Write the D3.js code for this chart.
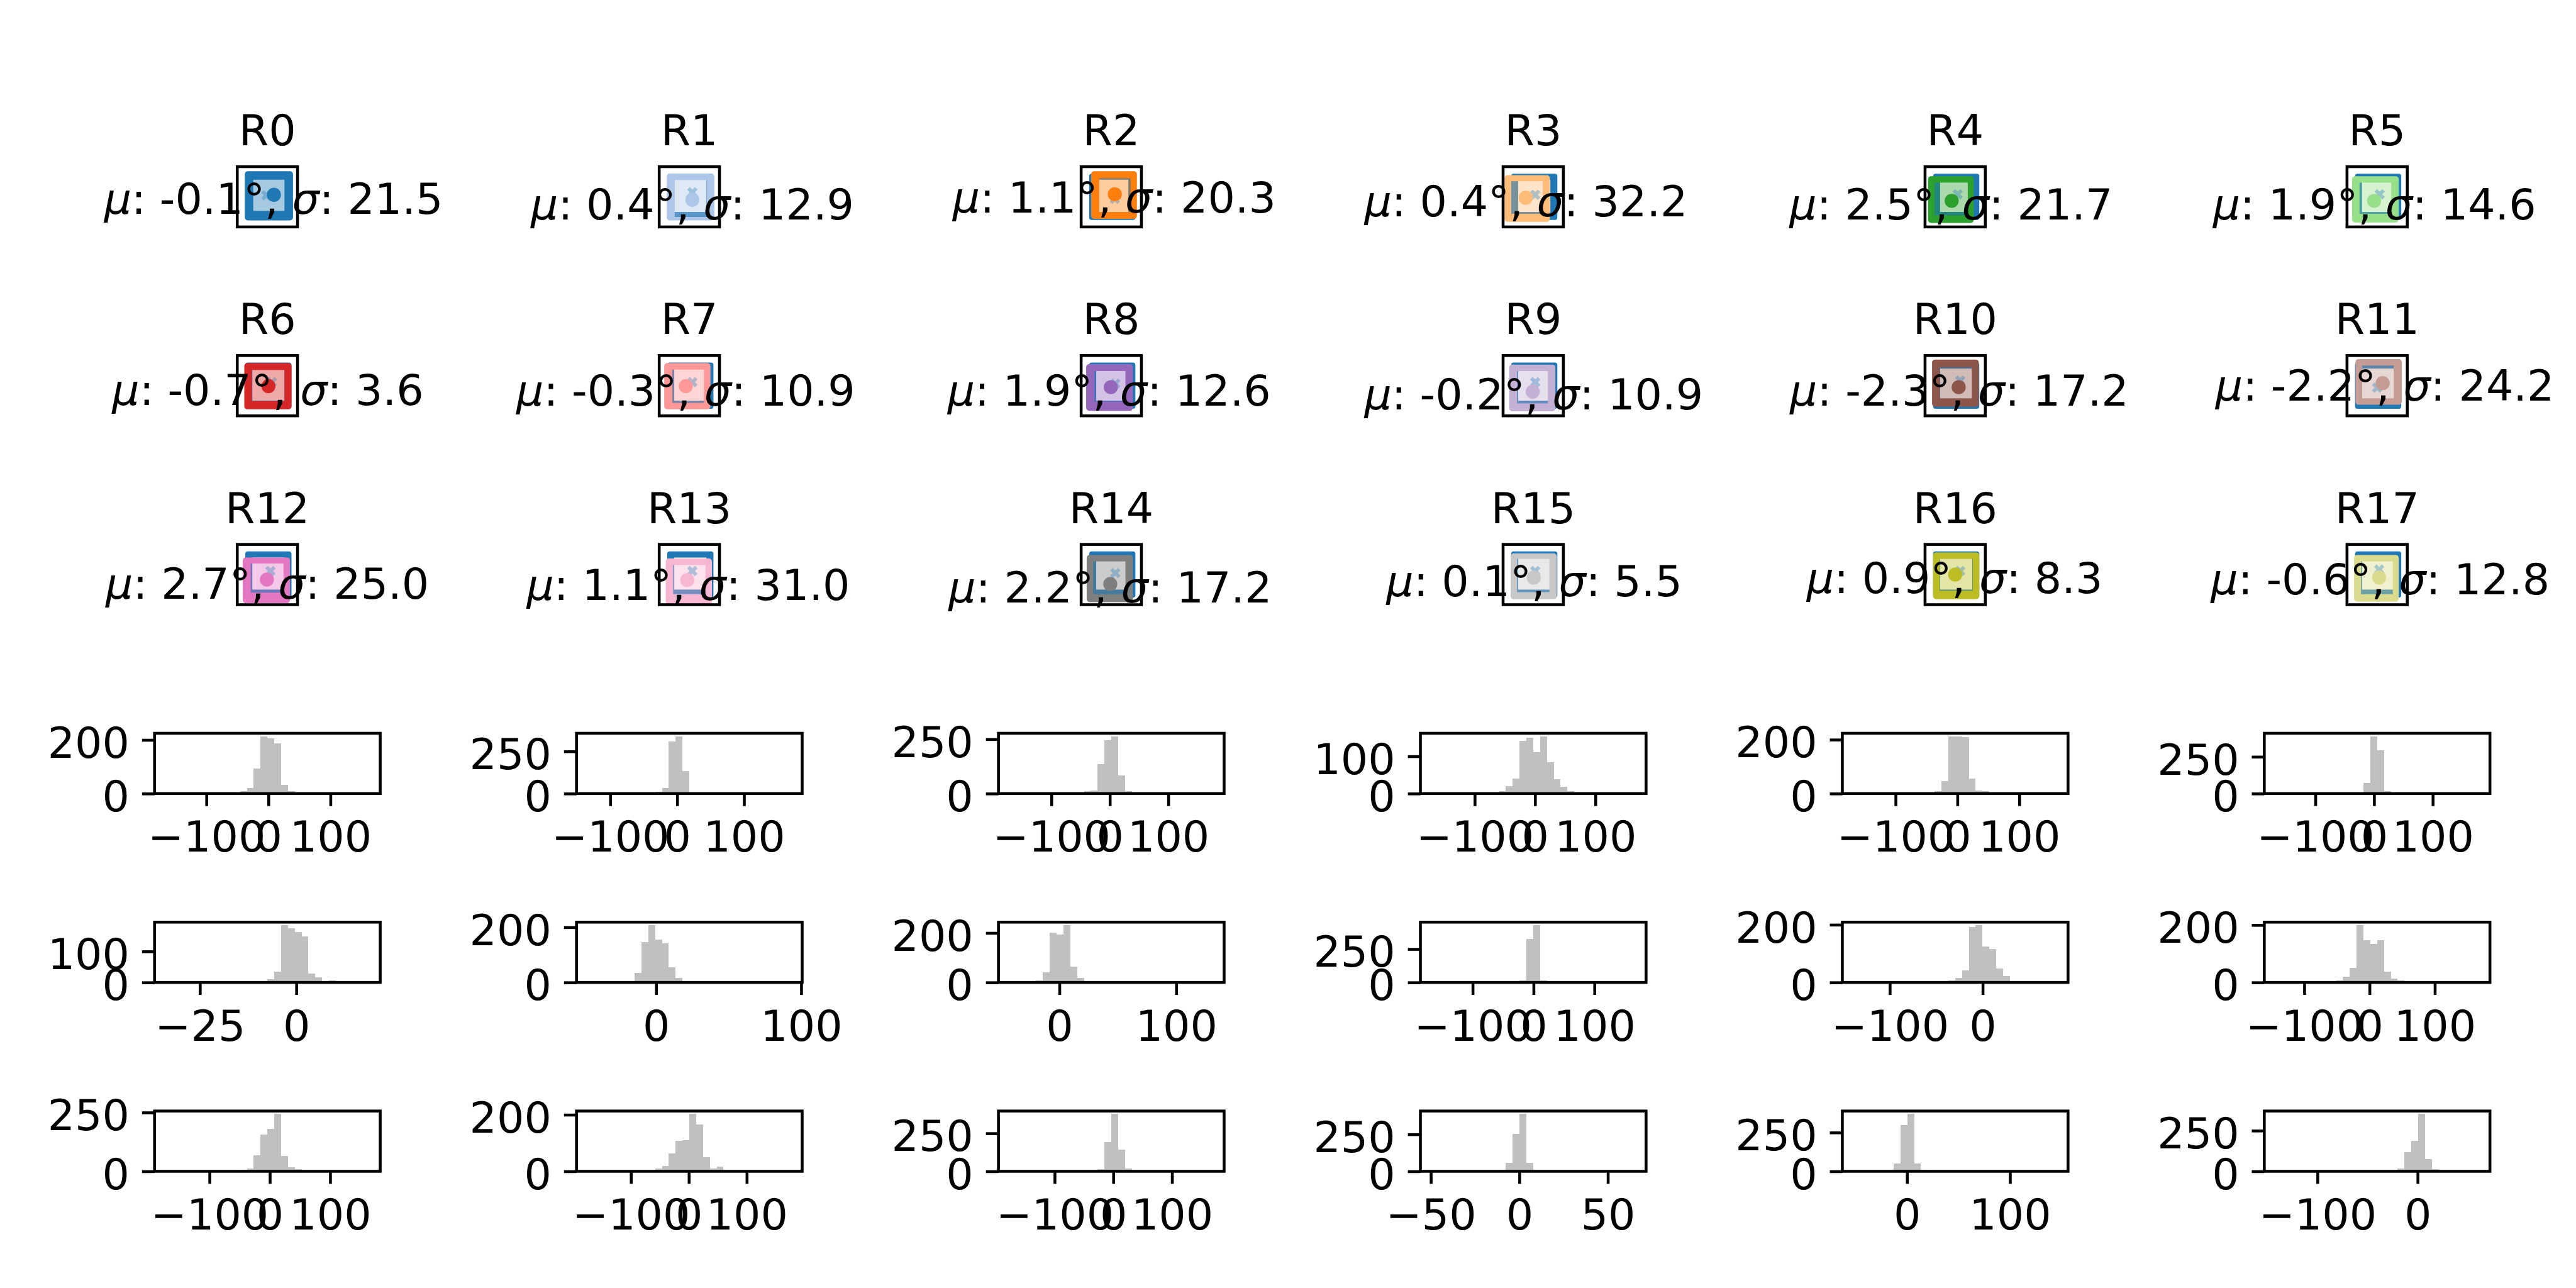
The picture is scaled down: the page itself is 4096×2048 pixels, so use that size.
<!DOCTYPE html>
<html><head><meta charset="utf-8">
<script src="https://cdn.jsdelivr.net/npm/d3@7"></script>
<style>html,body{margin:0;padding:0;background:#fff}svg{display:block}</style>
</head><body>
<script>
// ---------------- data ----------------
const regionNames = ["R0","R1","R2","R3","R4","R5","R6","R7","R8","R9","R10","R11","R12","R13","R14","R15","R16","R17"];
const muValues = [-0.1,0.4,1.1,0.4,2.5,1.9,-0.7,-0.3,1.9,-0.2,-2.3,-2.2,2.7,1.1,2.2,0.1,0.9,-0.6];
const sigmaValues = [21.5,12.9,20.3,32.2,21.7,14.6,3.6,10.9,12.6,10.9,17.2,24.2,25.0,31.0,17.2,5.5,8.3,12.8];

// histogram: data range (min, max) and 30 bin counts
const histMin = [-167,-135.1,-173,-173,-169.4,-169.5,-34.1,-47.8,-43.4,-169,-140,-145.5,-174,-176.3,-178.2,-50.1,-52.8,-142.8];
const histMax = [163.7,171.6,178,167,162.2,180,19.1,93.6,132.2,168,80.8,168.8,166,178.1,171.3,65.8,146.4,62];
const histCounts = [
  [1,0,0,0,0,0,0,0,0,0, 0,9,21,94,214,206,188,32,9,2, 0,0,0,0,0,0,0,0,0,1],
  [1,0,0,0,0,0,0,0,0,5, 9,34,309,340,133,0,0,0,0,0, 0,0,0,0,0,0,0,0,0,1],
  [1,0,0,0,0,0,0,0,0,0, 0,11,15,135,246,264,82,11,0,0, 0,0,0,0,0,0,0,0,0,1],
  [1,0,0,0,0,0,0,0,0,0, 6,20,40,142,149,111,154,84,39,19, 6,0,0,0,0,0,0,0,0,1],
  [1,0,0,0,0,0,0,0,0,0, 0,0,9,47,212,213,210,55,12,9, 0,0,0,0,0,0,0,0,0,1],
  [1,0,0,0,0,0,0,0,0,0, 0,0,3,70,390,293,17,0,0,0, 0,0,0,0,0,0,0,0,0,1],
  [1,0,0,0,0,0,0,0,0,0, 0,0,0,0,0,11,34,185,175,163, 149,29,17,5,6,0,0,0,0,1],
  [1,0,0,0,0,5,5,35,147,208, 155,141,54,16,5,0,0,0,0,0, 0,0,0,0,0,0,0,0,0,1],
  [1,0,0,0,9,42,201,193,232,63, 17,0,0,0,0,0,0,0,0,0, 0,0,0,0,0,0,0,0,0,1],
  [1,0,0,0,0,0,0,0,0,0, 0,0,0,16,325,430,14,0,0,0, 0,0,0,0,0,0,0,0,0,1],
  [1,0,0,0,0,0,0,0,0,0, 0,0,0,0,7,16,41,192,199,124, 116,49,23,3,0,0,0,0,0,1],
  [1,0,0,0,0,0,0,0,0,7, 21,50,200,147,134,147,37,14,6,0, 0,0,0,0,0,0,0,0,0,1],
  [1,0,0,0,0,0,0,0,0,0, 0,6,12,69,157,179,244,66,17,8, 0,0,0,0,0,0,0,0,0,1],
  [1,0,0,0,0,0,0,0,0,0, 9,19,63,108,109,203,165,50,10,17, 0,0,0,0,0,0,0,0,0,1],
  [1,0,0,0,0,0,0,0,0,0, 0,0,8,16,192,378,144,18,0,0, 0,0,0,0,0,0,0,0,0,1],
  [1,0,0,0,0,0,0,0,0,0, 10,58,254,388,56,4,0,0,0,0, 0,0,0,0,0,0,0,0,0,1],
  [1,0,0,0,0,0,49,297,370,49, 8,0,0,0,0,0,0,0,0,0, 0,0,0,0,0,0,0,0,0,1],
  [1,0,0,0,0,0,0,0,0,0, 0,0,0,0,0,0,0,0,19,118, 188,353,75,13,0,0,0,0,0,1]
];
const histXTicks = [
  [-100,0,100],[-100,0,100],[-100,0,100],[-100,0,100],[-100,0,100],[-100,0,100],
  [-25,0],[0,100],[0,100],[-100,0,100],[-100,0],[-100,0,100],
  [-100,0,100],[-100,0,100],[-100,0,100],[-50,0,50],[0,100],[-100,0]
];
const histYTicks = [
  [0,200],[0,250],[0,250],[0,100],[0,200],[0,250],
  [0,100],[0,200],[0,200],[0,250],[0,200],[0,200],
  [0,250],[0,200],[0,250],[0,250],[0,250],[0,250]
];

// image masks, in image units (0..120): [x0, x1, y0, y1]
const referenceOuter = [16,108,14,106];
const referenceInner = [30,94,26,90];
const maskOuter = [
  [15,111,9,107],[15,110,14,107],[20,111,9,104],[3,93,17,110],[6,97,19,112],[10,103,19,111],
  [14,108,15,107],[10,102,15,107],[10,103,17,110],[12,104,18,111],[14,107,8,102],[17,109,7,98],
  [11,105,26,117],[13,105,28,120],[11,103,21,115],[15,107,18,109],[16,108,16,109],[14,103,21,114]
];
const maskInner = [
  [32,96,23,88],[31,95,27,100],[36,98,23,90],[15,79,29,94],[19,85,32,97],[25,88,32,94],
  [29,94,29,91],[26,89,28,94],[26,88,31,92],[28,89,31,95],[29,93,23,85],[30,93,20,85],
  [27,92,38,96],[28,92,41,99],[24,88,34,99],[28,92,29,95],[29,95,29,92],[28,91,34,99]
];
const centroidX = [73,66,67,45,53,54,62,53,59,59,67,71,59,56,58,61,60,64];
const centroidY = [56,66,55,62,68,68,61,61,63,72,63,55,70,71,79,66,60,66];
const markerX = [58,66,67,64,65,65,69,66,68,64,70,60,66,66,68,64,70,64];
const markerY = [57,51,64,56,55,55,53,53,56,53,50,64,53,53,57,53,53,50];

// ---------------- styles / layout ----------------
const palette = ["#1f77b4","#aec7e8","#ff7f0e","#ffbb78","#2ca02c","#98df8a","#d62728","#ff9896",
  "#9467bd","#c5b0d5","#8c564b","#c49c94","#e377c2","#f7b6d2","#7f7f7f","#c7c7c7","#bcbd22","#dbdb8d"];
// small per-panel nudges of the stat label (reference px)
const labelDx = [12,6,6,-14,-8,-5,1,-7,-4,1,8,15,0,-2,-2,2,-1,6];
const labelDy = [-25,-15,-28,-20,-14,-15,-21,-20,-20,-13,-20,-29,-12,-9,-4,-17,-22,-20];

histCounts.forEach((c,i)=>{ if (c.length !== 30) throw new Error("bad count length " + i + ": " + c.length); });

const W = 4096, H = 2048, S = 4096/5000;
const PT = 500/72*S;            // one point in window px
const FONT = "'DejaVu Sans', sans-serif";
const lw = 0.8*PT, tickLen = 3.5*PT, tickFont = 12*PT, titleFont = 12*PT;
const cellLeft = j => (300 + 819*j)*S;
const cellTop  = i => (323.5 + 366.6*i)*S;
const cellW = 438*S, cellH = 117*S;

const svg = d3.select("body").append("svg").attr("width", W).attr("height", H)
  .attr("font-family", FONT);
svg.append("rect").attr("width", W).attr("height", H).attr("fill", "#fff");
const defs = svg.append("defs");

function roundRectRing(xs, ys, outer, inner, r) {
  const p = d3.path();
  const X0 = xs(outer[0]), X1 = xs(outer[1]), Y0 = ys(outer[2]), Y1 = ys(outer[3]);
  const rr = xs(r) - xs(0);
  p.moveTo(X0 + rr, Y0); p.lineTo(X1 - rr, Y0); p.arcTo(X1, Y0, X1, Y0 + rr, rr);
  p.lineTo(X1, Y1 - rr); p.arcTo(X1, Y1, X1 - rr, Y1, rr);
  p.lineTo(X0 + rr, Y1); p.arcTo(X0, Y1, X0, Y1 - rr, rr);
  p.lineTo(X0, Y0 + rr); p.arcTo(X0, Y0, X0 + rr, Y0, rr); p.closePath();
  p.rect(xs(inner[0]), ys(inner[2]), xs(inner[1]) - xs(inner[0]), ys(inner[3]) - ys(inner[2]));
  return p.toString();
}

// ---------------- image panels ----------------
regionNames.forEach((name, k) => {
  const row = Math.floor(k/6), col = k % 6;
  const side = cellH;
  const bx = cellLeft(col) + (cellW - side)/2, by = cellTop(row);
  const xs = d3.scaleLinear().domain([0,120]).range([bx, bx + side]);
  const ys = d3.scaleLinear().domain([0,120]).range([by, by + side]);
  const g = svg.append("g");
  defs.append("clipPath").attr("id", "clip" + k).append("rect")
    .attr("x", bx).attr("y", by).attr("width", side).attr("height", side);
  const img = g.append("g").attr("clip-path", `url(#clip${k})`);
  img.append("path").attr("d", roundRectRing(xs, ys, referenceOuter, referenceInner, 5))
    .attr("fill", palette[0]).attr("fill-rule", "evenodd");
  img.append("path").attr("d", roundRectRing(xs, ys, maskOuter[k], maskInner[k], 6))
    .attr("fill", palette[k]).attr("fill-rule", "evenodd");
  const inn = maskInner[k];
  img.append("rect").attr("x", xs(inn[0])).attr("y", ys(inn[2]))
    .attr("width", xs(inn[1]) - xs(inn[0])).attr("height", ys(inn[3]) - ys(inn[2]))
    .attr("fill", palette[k]).attr("fill-opacity", 0.4);
  const armW = (xs(22) - xs(0))/3;
  img.append("path").attr("d", d3.symbol(d3.symbolCross, 5*armW*armW)())
    .attr("transform", `translate(${xs(markerX[k])},${ys(markerY[k])}) rotate(45)`)
    .attr("fill", palette[0]).attr("fill-opacity", 0.35);
  img.append("circle").attr("cx", xs(centroidX[k])).attr("cy", ys(centroidY[k]))
    .attr("r", xs(14) - xs(0)).attr("fill", palette[k]);
  g.append("rect").attr("x", bx).attr("y", by).attr("width", side).attr("height", side)
    .attr("fill", "none").attr("stroke", "#000").attr("stroke-width", lw);
  g.append("text").attr("x", bx + side/2).attr("y", by - 6*PT)
    .attr("text-anchor", "middle").attr("font-size", titleFont).text(name);
  const t = g.append("text").attr("x", bx + side/2 + labelDx[k]*S)
    .attr("y", by + side + labelDy[k]*S)
    .attr("text-anchor", "middle").attr("font-size", titleFont);
  t.append("tspan").attr("font-style", "italic").text("\u03bc");
  t.append("tspan").text(": " + muValues[k].toFixed(1) + "\u00b0, ");
  t.append("tspan").attr("font-style", "italic").text("\u03c3");
  t.append("tspan").text(": " + sigmaValues[k].toFixed(1));
});

// ---------------- histograms ----------------
const fmt = d3.format("d");
regionNames.forEach((name, k) => {
  const row = 3 + Math.floor(k/6), col = k % 6;
  const L = cellLeft(col), T = cellTop(row), Wc = cellW, Hc = cellH;
  const lo = histMin[k], hi = histMax[k], span = hi - lo;
  const counts = histCounts[k];
  const bw = span / counts.length;
  const x = d3.scaleLinear().domain([lo - 0.05*span, hi + 0.05*span]).range([L, L + Wc]);
  const y = d3.scaleLinear().domain([0, 1.05*d3.max(counts)]).range([T + Hc, T]);
  const g = svg.append("g");
  const bins = counts.map((c, i) => ({x0: lo + i*bw, x1: lo + (i+1)*bw, c}));
  g.append("g").attr("shape-rendering", "crispEdges").selectAll("rect").data(bins).join("rect")
    .attr("x", d => x(d.x0)).attr("width", d => x(d.x1) - x(d.x0))
    .attr("y", d => y(d.c)).attr("height", d => y(0) - y(d.c))
    .attr("fill", "#bfbfbf");
  const ax = g.append("g").attr("transform", `translate(0,${T + Hc})`)
    .call(d3.axisBottom(x).tickValues(histXTicks[k]).tickFormat(fmt).tickSize(tickLen).tickPadding(3.5*PT));
  ax.select(".domain").remove();
  ax.selectAll("line").attr("stroke", "#000").attr("stroke-width", lw);
  ax.selectAll("text").attr("fill", "#000").attr("font-size", tickFont).attr("font-family", FONT)
    .attr("y", 0).attr("dy", null).attr("transform", `translate(0,${113*S})`);
  const ay = g.append("g").attr("transform", `translate(${L},0)`)
    .call(d3.axisLeft(y).tickValues(histYTicks[k]).tickFormat(fmt).tickSize(tickLen).tickPadding(3.5*PT));
  ay.select(".domain").remove();
  ay.selectAll("line").attr("stroke", "#000").attr("stroke-width", lw);
  ay.selectAll("text").attr("fill", "#000").attr("font-size", tickFont).attr("font-family", FONT)
    .attr("dy", null).attr("transform", `translate(0,${34*S})`);
  g.append("rect").attr("x", L).attr("y", T).attr("width", Wc).attr("height", Hc)
    .attr("fill", "none").attr("stroke", "#000").attr("stroke-width", lw);
});
</script>
</body></html>
